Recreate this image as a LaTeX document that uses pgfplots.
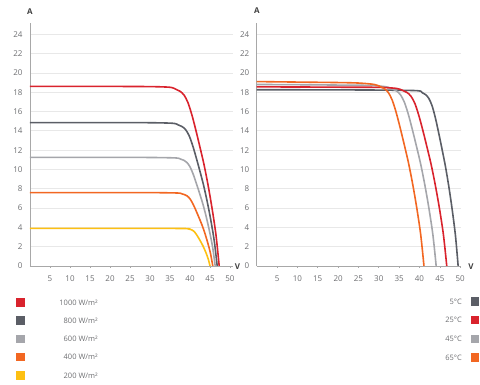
\documentclass[border=0pt]{standalone}
\usepackage{fontspec}
\setmainfont{Open Sans}
\usepackage{pgfplots}
\pgfplotsset{compat=1.18}
\definecolor{cred}{HTML}{D9232D}
\definecolor{cdgray}{HTML}{5B5E66}
\definecolor{clgray}{HTML}{A5A6AB}
\definecolor{corange}{HTML}{F26722}
\definecolor{cyellow}{HTML}{FDC012}
\definecolor{axisgray}{HTML}{A8A8A8}
\definecolor{gridgray}{HTML}{E8E8E8}
\definecolor{labelgray}{HTML}{6D6E71}
\pgfplotsset{ivstyle/.style={
  scale only axis, height=243.3pt,
  ymin=0, ymax=25.2, xmin=0,
  axis x line*=bottom, axis y line*=left,
  axis line style={draw=axisgray, line width=0.8pt},
  ytick={0,2,...,24}, xtick={5,10,...,50},
  ymajorgrids, grid style={draw=gridgray, line width=0.7pt},
  ytick style={draw=none},
  xtick style={draw=axisgray, line width=0.6pt},
  tick align=outside, major tick length=2pt,
  ticklabel style={font=\fontsize{8}{9}\selectfont, text=labelgray},
  /pgf/number format/assume math mode=true,
  xticklabel style={yshift=-4pt},
  yticklabel style={xshift=-2pt},
  every axis plot/.append style={line width=1.6pt, smooth, tension=0.5, no markers},
}}
\begin{document}
\begin{tikzpicture}
\useasboundingbox (0pt,0pt) rectangle (480pt,385pt);
\begin{axis}[ivstyle, at={(30pt,119pt)}, anchor=origin, width=203pt, xmax=50.75]
\addplot[cyellow] coordinates {(0,3.9) (10,3.9) (20,3.9) (30,3.9) (38.85,3.88) (39.6,3.84) (40.1,3.79) (40.6,3.71) (41.1,3.55) (41.6,3.27) (42.1,2.94) (42.6,2.58) (43.1,2.20) (43.6,1.76) (44.1,1.26) (44.6,0.67) (45,0)};
\addplot[corange] coordinates {(0,7.6) (10,7.6) (20,7.6) (30,7.6) (36.84,7.56) (37.92,7.48) (38.64,7.39) (39.36,7.24) (40.08,6.91) (40.80,6.38) (41.52,5.72) (42.24,5.02) (42.96,4.29) (43.68,3.44) (44.40,2.45) (45.12,1.31) (45.7,0)};
\addplot[clgray] coordinates {(0,11.25) (10,11.25) (20,11.25) (30,11.24) (36.46,11.19) (37.66,11.07) (38.46,10.95) (39.26,10.71) (40.06,10.23) (40.86,9.44) (41.66,8.47) (42.46,7.44) (43.26,6.36) (44.06,5.09) (44.86,3.63) (45.66,1.94) (46.3,0)};
\addplot[cdgray] coordinates {(0,14.85) (10,14.85) (20,14.85) (30,14.84) (35.73,14.78) (37.08,14.61) (37.98,14.45) (38.88,14.14) (39.78,13.50) (40.68,12.46) (41.58,11.18) (42.48,9.82) (43.38,8.39) (44.28,6.71) (45.18,4.80) (46.08,2.55) (46.8,0)};
\addplot[cred] coordinates {(0,18.6) (10,18.6) (20,18.6) (30,18.58) (35.0,18.51) (36.5,18.30) (37.5,18.10) (38.5,17.71) (39.5,16.91) (40.5,15.61) (41.5,14.01) (42.5,12.29) (43.5,10.51) (44.5,8.41) (45.5,6.01) (46.5,3.20) (47.3,0)};
\end{axis}
\begin{axis}[ivstyle, at={(256.7pt,119pt)}, anchor=origin, width=204.3pt, xmax=50.2]
\addplot[cdgray] coordinates {(0,18.25) (10,18.25) (20,18.24) (30,18.22) (39.41,18.16) (40.64,17.96) (41.46,17.76) (42.28,17.37) (43.10,16.59) (43.92,15.31) (44.74,13.74) (45.56,12.06) (46.38,10.31) (47.20,8.25) (48.02,5.89) (48.84,3.14) (49.5,0)};
\addplot[clgray] coordinates {(0,18.8) (10,18.78) (20,18.74) (28,18.7) (31.8,18.56) (33.3,18.35) (34.3,18.15) (35.3,17.75) (36.3,16.95) (37.3,15.65) (38.3,14.04) (39.3,12.33) (40.3,10.54) (41.3,8.43) (42.3,6.02) (43.3,3.21) (44.1,0)};
\addplot[cred] coordinates {(0,18.55) (10,18.54) (20,18.52) (30,18.5) (34.4,18.39) (35.9,18.18) (36.9,17.98) (37.9,17.59) (38.9,16.80) (39.9,15.50) (40.9,13.92) (41.9,12.22) (42.9,10.44) (43.9,8.35) (44.9,5.97) (45.9,3.18) (46.7,0)};
\addplot[corange] coordinates {(0,19.1) (10,19.05) (20,19.0) (25,18.95) (28.8,18.81) (30.3,18.60) (31.3,18.39) (32.3,17.99) (33.3,17.18) (34.3,15.86) (35.3,14.23) (36.3,12.49) (37.3,10.68) (38.3,8.54) (39.3,6.10) (40.3,3.25) (41.1,0)};
\end{axis}
% axis letters
\node[font=\fontsize{8}{9}\selectfont\bfseries, text=black!75] at (30pt,373.5pt) {A};
\node[font=\fontsize{8}{9}\selectfont\bfseries, text=black!75] at (257pt,374pt) {A};
\node[font=\fontsize{8}{9}\selectfont\bfseries, text=black!75] at (237.5pt,118.5pt) {V};
\node[font=\fontsize{8}{9}\selectfont\bfseries, text=black!75] at (471pt,118.5pt) {V};
% legends
\begin{scope}[every node/.style={font=\fontsize{7.5}{9}\selectfont, text=labelgray, anchor=east, inner sep=0pt}]
\fill[cred] (16.3pt,78.3pt) rectangle ++(8.5pt,8.5pt);
\node at (98pt,82.5pt) {1000 W/m²};
\fill[cdgray] (16.3pt,60.1pt) rectangle ++(8.5pt,8.5pt);
\node at (98pt,64.3pt) {800 W/m²};
\fill[clgray] (16.3pt,41.8pt) rectangle ++(8.5pt,8.5pt);
\node at (98pt,46pt) {600 W/m²};
\fill[corange] (16.3pt,23.5pt) rectangle ++(8.5pt,8.5pt);
\node at (98pt,27.7pt) {400 W/m²};
\fill[cyellow] (16.3pt,5.1pt) rectangle ++(8.5pt,8.5pt);
\node at (98pt,9.3pt) {200 W/m²};
\fill[cdgray] (470.5pt,79pt) rectangle ++(8.5pt,8.5pt);
\node at (462pt,83.3pt) {5°C};
\fill[cred] (470.5pt,60.8pt) rectangle ++(8.5pt,8.5pt);
\node at (462pt,65pt) {25°C};
\fill[clgray] (470.5pt,41.8pt) rectangle ++(8.5pt,8.5pt);
\node at (462pt,46pt) {45°C};
\fill[corange] (470.5pt,23.1pt) rectangle ++(8.5pt,8.5pt);
\node at (462pt,27.3pt) {65°C};
\end{scope}
\end{tikzpicture}
\end{document}
